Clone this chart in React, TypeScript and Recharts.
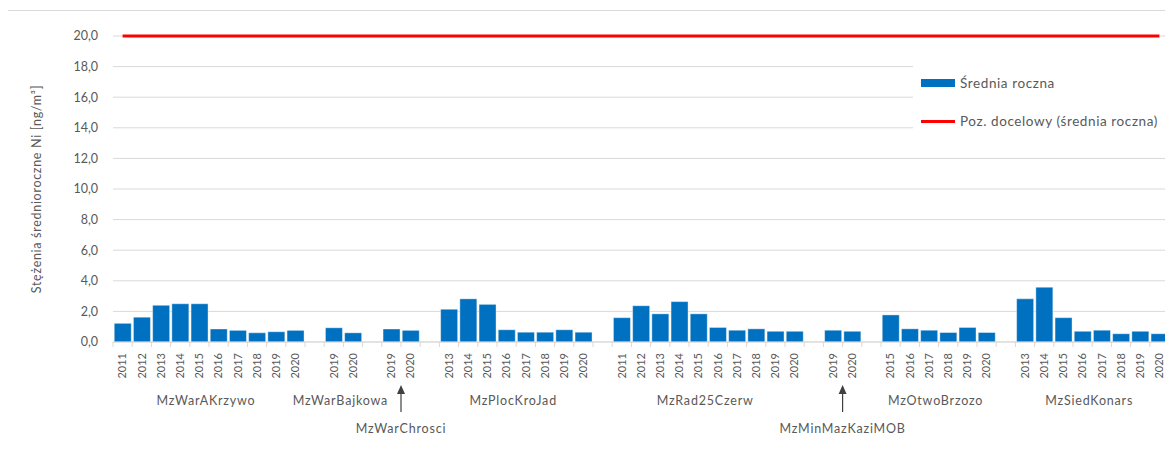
import React from "react"
import { ComposedChart, Bar, Line, XAxis, YAxis, CartesianGrid, Legend } from "recharts"

const STATIONS = [
  "MzWarAKrzywo",
  "MzWarBajkowa",
  "MzWarChrosci",
  "MzPlocKroJad",
  "MzRad25Czerw",
  "MzMinMazKaziMOB",
  "MzOtwoBrzozo",
  "MzSiedKonars",
]

const YEARS = [
  ["2011", "2012", "2013", "2014", "2015", "2016", "2017", "2018", "2019", "2020"],
  ["2019", "2020"],
  ["2019", "2020"],
  ["2013", "2014", "2015", "2016", "2017", "2018", "2019", "2020"],
  ["2011", "2012", "2013", "2014", "2015", "2016", "2017", "2018", "2019", "2020"],
  ["2019", "2020"],
  ["2015", "2016", "2017", "2018", "2019", "2020"],
  ["2013", "2014", "2015", "2016", "2017", "2018", "2019", "2020"],
]

const ANNUAL_MEAN = [
  [1.22, 1.62, 2.4, 2.5, 2.5, 0.85, 0.76, 0.6, 0.67, 0.76],
  [0.93, 0.6],
  [0.85, 0.76],
  [2.14, 2.82, 2.46, 0.8, 0.64, 0.64, 0.8, 0.64],
  [1.59, 2.37, 1.84, 2.64, 1.84, 0.95, 0.77, 0.86, 0.7, 0.7],
  [0.77, 0.7],
  [1.77, 0.86, 0.77, 0.62, 0.95, 0.62],
  [2.82, 3.58, 1.59, 0.7, 0.77, 0.54, 0.7, 0.54],
]

const TARGET = 20
const Y_TICKS = [0, 2, 4, 6, 8, 10, 12, 14, 16, 18, 20]

const BLUE = "#0070C0"
const RED = "#FF0000"
const GRID = "#D9D9D9"
const TEXT = "#595959"
const FONT = "Lato, 'Noto Sans', sans-serif"

const W = 1173
const H = 454
const MARGIN = { top: 36, right: 4, left: 0, bottom: 0 }
const Y_W = 113
const X_H = 112
const ARROW_STATIONS = new Set(["MzWarChrosci", "MzMinMazKaziMOB"])

type Row = {
  key: string
  year: string
  value: number | null
  target: number
  station: string
  first: boolean
  count: number
}

const rows: Row[] = []
STATIONS.forEach((s, si) => {
  if (si > 0) {
    rows.push({ key: `gap-${si}`, year: "", value: null, target: TARGET, station: "", first: false, count: 0 })
  }
  YEARS[si].forEach((y, yi) => {
    rows.push({
      key: `${s}-${y}`,
      year: y,
      value: ANNUAL_MEAN[si][yi],
      target: TARGET,
      station: s,
      first: yi === 0,
      count: YEARS[si].length,
    })
  })
})

const bandWidth = (W - MARGIN.left - MARGIN.right - Y_W) / rows.length

function YearTick(props: any) {
  const { x, y, payload } = props
  const row = rows[payload.index]
  if (!row) return null
  const axisY = y - 8
  const isLast = payload.index === rows.length - 1
  let label = null
  if (row.first) {
    const cx = x + ((row.count - 1) / 2) * bandWidth
    if (ARROW_STATIONS.has(row.station)) {
      label = (
        <g>
          <line x1={cx} y1={axisY + 70} x2={cx} y2={axisY + 50} stroke="#404040" strokeWidth={1.2} />
          <path d={`M${cx - 4},${axisY + 52} L${cx},${axisY + 43} L${cx + 4},${axisY + 52} Z`} fill="#404040" />
          <text x={cx} y={axisY + 87} dy="0.35em" textAnchor="middle" fontSize={12.5} letterSpacing={0.8} fill={TEXT} fontFamily={FONT}>
            {row.station}
          </text>
        </g>
      )
    } else {
      label = (
        <text x={cx - 3} y={axisY + 59} dy="0.35em" textAnchor="middle" fontSize={12.5} letterSpacing={0.8} fill={TEXT} fontFamily={FONT}>
          {row.station}
        </text>
      )
    }
  }
  return (
    <g>
      <line x1={x - bandWidth / 2} y1={axisY} x2={x - bandWidth / 2} y2={axisY + 5} stroke={GRID} />
      {isLast && <line x1={x + bandWidth / 2} y1={axisY} x2={x + bandWidth / 2} y2={axisY + 5} stroke={GRID} />}
      {row.year && (
        <text
          x={x}
          y={axisY + 11}
          dy="0.35em"
          transform={`rotate(-90, ${x}, ${axisY + 11})`}
          textAnchor="end"
          fontSize={11}
          fill={TEXT}
          fontFamily={FONT}
        >
          {row.year}
        </text>
      )}
      {label}
    </g>
  )
}

function LegendBox() {
  const item: React.CSSProperties = {
    position: "absolute",
    left: 8,
    display: "flex",
    alignItems: "center",
    fontSize: 13.5,
    letterSpacing: 0.6,
    color: TEXT,
    fontFamily: FONT,
    whiteSpace: "nowrap",
    lineHeight: "16px",
  }
  return (
    <div style={{ position: "relative", width: 252, height: 76, background: "#fff" }}>
      <div style={{ ...item, top: 15 }}>
        <span style={{ display: "inline-block", width: 34, height: 8, background: BLUE, marginRight: 5 }} />
        <span>Średnia roczna</span>
      </div>
      <div style={{ ...item, top: 53 }}>
        <span style={{ display: "inline-block", width: 34, height: 3, background: RED, marginRight: 5 }} />
        <span>Poz. docelowy (średnia roczna)</span>
      </div>
    </div>
  )
}

export default function App() {
  return (
    <div style={{ position: "relative", margin: -8, width: W, height: H, overflow: "hidden", background: "#fff" }}>
      <div
        style={{
          position: "absolute",
          left: 5,
          top: 10,
          width: W + 10,
          height: H + 10,
          borderLeft: `1px solid ${GRID}`,
          borderTop: `1px solid ${GRID}`,
        }}
      />
      <div style={{ position: "absolute", left: 0, top: 0 }}>
        <ComposedChart width={W} height={H} data={rows} margin={MARGIN} barCategoryGap="6.5%">
          <CartesianGrid horizontal vertical={false} stroke={GRID} />
          <XAxis
            dataKey="key"
            interval={0}
            height={X_H}
            tickLine={false}
            tickSize={6}
            tickMargin={2}
            axisLine={{ stroke: GRID }}
            tick={<YearTick />}
          />
          <YAxis
            width={Y_W}
            domain={[0, 20]}
            ticks={Y_TICKS}
            axisLine={false}
            tickLine={false}
            tickMargin={9}
            tick={{ fill: TEXT, fontSize: 12.5, fontFamily: FONT }}
            tickFormatter={(v: number) => v.toFixed(1).replace(".", ",")}
            label={{
              value: "Stężenia średnioroczne Ni [ng/m³]",
              angle: -90,
              position: "insideLeft",
              dx: 32,
              fill: TEXT,
              fontSize: 12.5,
              fontFamily: FONT,
              letterSpacing: 0.7,
              style: { textAnchor: "middle" },
            }}
          />
          <Legend
            layout="vertical"
            align="center"
            verticalAlign="middle"
            wrapperStyle={{ left: 913, top: 60, width: 252, height: 76 }}
            content={() => <LegendBox />}
          />
          <Bar dataKey="value" name="Średnia roczna" fill={BLUE} stroke="#ffffff" strokeWidth={0.4} isAnimationActive={false} />
          <Line
            dataKey="target"
            name="Poz. docelowy (średnia roczna)"
            stroke={RED}
            strokeWidth={3}
            dot={false}
            activeDot={false}
            isAnimationActive={false}
          />
        </ComposedChart>
      </div>
    </div>
  )
}
